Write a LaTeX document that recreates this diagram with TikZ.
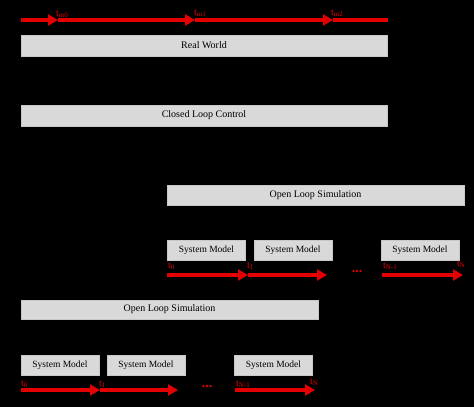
\documentclass[tikz,border=0pt]{standalone}
\usepackage{fontspec}
\setmainfont{Liberation Serif}
\usetikzlibrary{arrows.meta}
\definecolor{rd}{RGB}{228,0,0}
\definecolor{bx}{RGB}{217,217,217}
\definecolor{bxe}{RGB}{200,200,200}
\begin{document}
\begin{tikzpicture}[x=1pt,y=-1pt,
 bar/.style={fill=bx,draw=bxe,line width=0.6pt,inner sep=0pt,text=black,font=\fontsize{10}{12}\selectfont},
 smbox/.style={bar,minimum width=78pt,minimum height=20pt,font=\fontsize{9.5}{11}\selectfont},
 redline/.style={draw=rd,line width=3.5pt},
 redarrow/.style={redline,-{Triangle[length=10pt,width=11pt]}},
 tl/.style={text=rd,font=\fontsize{10}{11}\selectfont,inner sep=0pt,anchor=base west},
 dotsnode/.style={text=rd,font=\bfseries\fontsize{14}{15}\selectfont,inner sep=0pt},
]
\fill[black] (0,0) rectangle (474,407);
\useasboundingbox (0,0) rectangle (474,407);

% top time line
\coordinate (s0) at (21,20);
\coordinate (m0) at (58,20);
\coordinate (m1) at (195,20);
\coordinate (m2) at (333,20);
\coordinate (s1) at (388,20);
\draw[redarrow] (s0) -- (m0);
\draw[redarrow] (m0) -- (m1);
\draw[redarrow] (m1) -- (m2);
\draw[redline] (m2) -- (s1);
\node[tl] (lm0) at (56,16) {t\textsubscript{m0}};
\node[tl] (lm1) at (194,15) {t\textsubscript{m1}};
\node[tl] (lm2) at (331,15) {t\textsubscript{m2}};

% main bars
\node[bar,minimum width=366pt,minimum height=21pt] (rw) at (204,45.5) {Real World};
\node[bar,minimum width=366pt,minimum height=21pt] (clc) at (204,115.5) {Closed Loop Control};

% upper open loop simulation
\node[bar,minimum width=297pt,minimum height=20pt] (ols1) at (315.5,195) {Open Loop Simulation};
\node[smbox] (sa1) at (206.5,250) {System Model};
\node[smbox] (sa2) at (293,250) {System Model};
\node[smbox] (sa3) at (420,250) {System Model};
\coordinate (a0) at (167,275);
\coordinate (a1) at (248,275);
\coordinate (a2) at (327,275);
\coordinate (a3) at (382,275);
\coordinate (a4) at (463,275);
\draw[redarrow] (a0) -- (a1);
\draw[redarrow] (a1) -- (a2);
\draw[redarrow] (a3) -- (a4);
\node[dotsnode] (da) at (357,272) {...};
\node[tl] (la0) at (168,268) {t\textsubscript{0}};
\node[tl] (la1) at (247,268) {t\textsubscript{1}};
\node[tl] (la2) at (383,268) {t\textsubscript{N-1}};
\node[tl] (la3) at (457,266) {t\textsubscript{N}};

% lower open loop simulation
\node[bar,minimum width=297pt,minimum height=19pt] (ols2) at (169.5,309.5) {Open Loop Simulation};
\node[smbox] (sb1) at (60,365) {System Model};
\node[smbox] (sb2) at (146,365) {System Model};
\node[smbox] (sb3) at (273.5,365) {System Model};
\coordinate (b0) at (21,390);
\coordinate (b1) at (100,390);
\coordinate (b2) at (178,390);
\coordinate (b3) at (235,390);
\coordinate (b4) at (315,390);
\draw[redarrow] (b0) -- (b1);
\draw[redarrow] (b1) -- (b2);
\draw[redarrow] (b3) -- (b4);
\node[dotsnode] (db) at (207,387) {...};
\node[tl] (lb0) at (21,386) {t\textsubscript{0}};
\node[tl] (lb1) at (99,386) {t\textsubscript{1}};
\node[tl] (lb2) at (236,386) {t\textsubscript{N-1}};
\node[tl] (lb3) at (310,384) {t\textsubscript{N}};
\end{tikzpicture}
\end{document}
